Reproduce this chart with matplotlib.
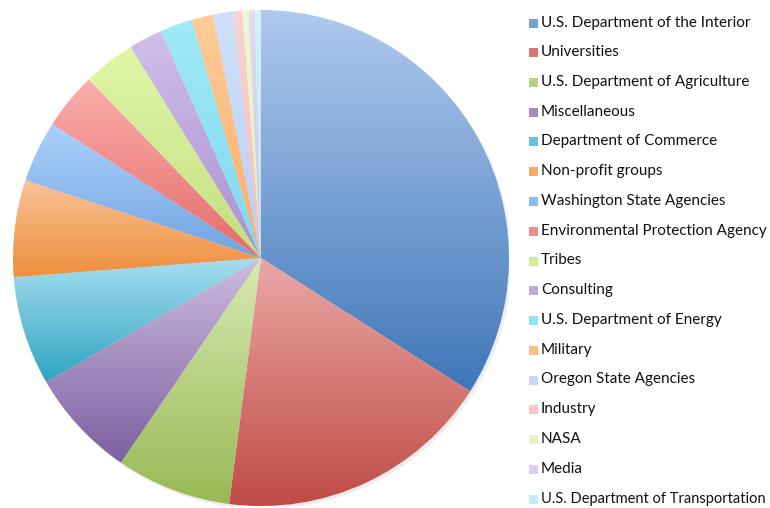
import numpy as np
import matplotlib
matplotlib.use("Agg")
import matplotlib.pyplot as plt
from matplotlib.colors import to_rgb
from matplotlib.patches import Rectangle, Circle

# funding sources (share of total)
labels = [
    "U.S. Department of the Interior",
    "Universities",
    "U.S. Department of Agriculture",
    "Miscellaneous",
    "Department of Commerce",
    "Non-profit groups",
    "Washington State Agencies",
    "Environmental Protection Agency",
    "Tribes",
    "Consulting",
    "U.S. Department of Energy",
    "Military",
    "Oregon State Agencies",
    "Industry",
    "NASA",
    "Media",
    "U.S. Department of Transportation",
]
values = [34.0, 18.0, 7.5, 7.1, 7.1, 6.3, 4.0, 3.7, 3.4, 2.2, 2.1, 1.4, 1.3, 0.6, 0.4, 0.4, 0.4]

# gradient colours, top (light) and bottom (dark) of each slice
top_colors = ["#B0C9EF", "#EBA8A6", "#D8EAB3", "#CBBDE0", "#A8DEF0", "#FAC39A",
              "#ADD0FC", "#FCAEAE", "#E0F7A8", "#D0BFEA", "#A0EAF8", "#FFCC99",
              "#D0E0FA", "#FCD2D2", "#EEF9D6", "#E4DAF2", "#D2F2FA"]
bottom_colors = ["#3F77B8", "#BF4A45", "#98B954", "#7D5FA0", "#2EA4C1", "#EE8E3A",
                 "#70A4E0", "#E46C69", "#C4DE80", "#AA90D0", "#7ED8EE", "#F9AE66",
                 "#B8CFF2", "#F7BABA", "#DAEEB8", "#CFC2E6", "#B5E6F2"]

fig = plt.figure(figsize=(7.7, 5.08), dpi=100)
cx, cy, r = 261, 258, 248
ax = fig.add_axes([(cx - r) / 770, (508 - cy - r) / 508, 2 * r / 770, 2 * r / 508])
ax.set_aspect("equal")
ax.axis("off")

# soft shadow under the pie
for k, a in enumerate([0.05, 0.05, 0.06]):
    ax.add_patch(Circle((0.006 + 0.003 * k, -0.008 - 0.003 * k), 1.0, color="gray",
                        alpha=a, lw=0, zorder=0))

wedges, _ = ax.pie(values, startangle=90, counterclock=False, radius=1.0,
                   wedgeprops=dict(facecolor="none", edgecolor="none"))

for w, c1, c2 in zip(wedges, top_colors, bottom_colors):
    ext = w.get_path().get_extents()
    t = np.linspace(0, 1, 256)[:, None]
    grad = (1 - t) * np.array(to_rgb(c1)) + t * np.array(to_rgb(c2))
    grad = grad[:, None, :].repeat(2, axis=1)
    im = ax.imshow(grad, extent=[ext.x0, ext.x1, ext.y0, ext.y1], origin="upper",
                   aspect="auto", interpolation="bilinear", zorder=2)
    im.set_clip_path(w)
    w.set_zorder(3)

ax.set_xlim(-1.0, 1.0)
ax.set_ylim(-1.0, 1.0)

# legend drawn by hand to match spacing
y0, dy = 22.5, 29.75
for i, (lab, c1, c2) in enumerate(zip(labels, top_colors, bottom_colors)):
    y = y0 + i * dy
    mid = 0.5 * (np.array(to_rgb(c1)) + np.array(to_rgb(c2)))
    fig.patches.append(Rectangle((529 / 770, 1 - (y + 5) / 508), 9 / 770, 9 / 508,
                                 transform=fig.transFigure, facecolor=mid,
                                 edgecolor="none"))
    fs = 11 if len(lab) < 32 else 10.5
    fig.text(541 / 770, 1 - y / 508, lab, fontsize=fs, va="center", ha="left",
             color="#111111", family=["Lato", "DejaVu Sans"])

fig.savefig("out.png", dpi=100)
